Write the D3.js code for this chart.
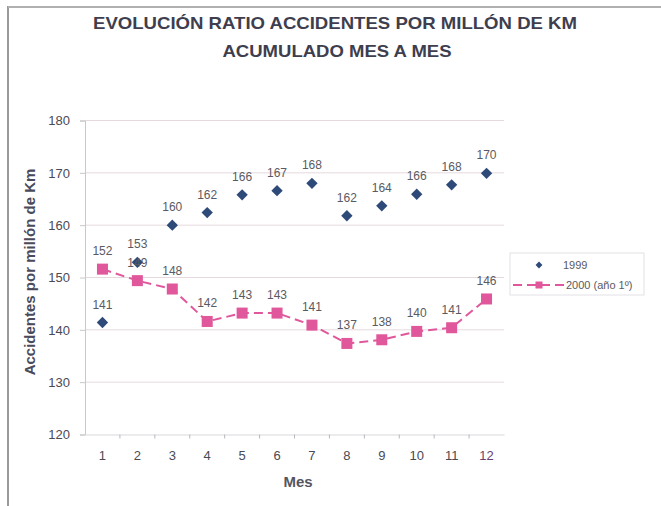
<!DOCTYPE html>
<html>
<head>
<meta charset="utf-8">
<script src="https://cdn.jsdelivr.net/npm/d3@7/dist/d3.min.js"></script>
<style>
body { margin: 0; background: #fff; }
svg { display: block; font-family: Arial, 'Liberation Sans', sans-serif; }
</style>
</head>
<body>
<svg id="chart" width="661" height="506"></svg>
<script>
// chart data
var months = ['1', '2', '3', '4', '5', '6', '7', '8', '9', '10', '11', '12'];
var serie1999 = [141.4, 152.9, 160.0, 162.4, 165.8, 166.6, 168.0, 161.8, 163.7, 165.9, 167.7, 169.9];
var serie2000 = [151.6, 149.4, 147.8, 141.6, 143.2, 143.2, 140.9, 137.4, 138.1, 139.7, 140.4, 145.9];
var labels1999 = ['141', '153', '160', '162', '166', '167', '168', '162', '164', '166', '168', '170'];
var labels2000 = ['152', '149', '148', '142', '143', '143', '141', '137', '138', '140', '141', '146'];
var yTicks = [120, 130, 140, 150, 160, 170, 180];
var seriesNames = ['1999', '2000 (año 1º)'];

var svg = d3.select('#chart');
var margin = {top: 120.5, left: 85, right: 157, bottom: 71.5};
var width = 661 - margin.left - margin.right,
    height = 506 - margin.top - margin.bottom;

var blue = '#2e4a78', pink = '#e0579c', txt = '#4a4a55';

// frame of the scanned sheet
svg.append('line').attr('x1', 8).attr('x2', 8).attr('y1', 6).attr('y2', 506)
  .attr('stroke', '#9a9a9a').attr('stroke-width', 2);
svg.append('line').attr('x1', 8).attr('x2', 661).attr('y1', 7).attr('y2', 7)
  .attr('stroke', '#b0b0b0').attr('stroke-width', 2);

// title
svg.append('text').attr('x', 335).attr('y', 29).attr('text-anchor', 'middle')
  .attr('font-size', 17).attr('font-weight', 'bold').attr('fill', '#3e3e4e')
  .attr('textLength', 484).attr('lengthAdjust', 'spacingAndGlyphs')
  .text('EVOLUCIÓN RATIO ACCIDENTES POR MILLÓN DE KM');
svg.append('text').attr('x', 337).attr('y', 57).attr('text-anchor', 'middle')
  .attr('font-size', 17).attr('font-weight', 'bold').attr('fill', '#3e3e4e')
  .attr('textLength', 229).attr('lengthAdjust', 'spacingAndGlyphs')
  .text('ACUMULADO MES A MES');

var g = svg.append('g').attr('transform', 'translate(' + margin.left + ',' + margin.top + ')');

var x = d3.scaleBand().domain(months).range([0, width]);
var y = d3.scaleLinear().domain([120, 180]).range([height, 0]);
var cx = function(i) { return x(months[i]) + x.bandwidth() / 2; };

// gridlines
g.selectAll('.grid').data(yTicks.slice(1)).enter().append('line')
  .attr('class', 'grid')
  .attr('x1', 0).attr('x2', width)
  .attr('y1', function(d) { return y(d); }).attr('y2', function(d) { return y(d); })
  .attr('stroke', '#e6d9de').attr('stroke-width', 1);

// y axis
var yAxis = g.append('g').call(d3.axisLeft(y).tickValues(yTicks).tickSize(5).tickPadding(10));
yAxis.select('.domain').attr('stroke', '#c8c8cc');
yAxis.selectAll('.tick line').attr('stroke', '#c8c8cc');
yAxis.selectAll('.tick text').attr('font-size', 13).attr('fill', txt)
  .attr('font-family', 'Arial, Liberation Sans, sans-serif');

// x axis
var xAxis = g.append('g').attr('transform', 'translate(0,' + height + ')')
  .call(d3.axisBottom(x).tickSize(0).tickPadding(16));
xAxis.select('.domain').attr('stroke', '#d8d8dc');
xAxis.selectAll('.tick text').attr('font-size', 13)
  .attr('fill', function(d) { return d === '12' ? '#6a3f6e' : txt; })
  .attr('font-family', 'Arial, Liberation Sans, sans-serif');
g.selectAll('.xsep').data(months.slice(1)).enter().append('line')
  .attr('x1', function(d) { return x(d); }).attr('x2', function(d) { return x(d); })
  .attr('y1', height).attr('y2', height + 4)
  .attr('stroke', '#b8b8bc');

// axis titles
svg.append('text').attr('transform', 'translate(35,272) rotate(-90)')
  .attr('text-anchor', 'middle').attr('font-size', 15).attr('font-weight', 'bold')
  .attr('fill', '#4a4a5a').text('Accidentes por millón de Km');
svg.append('text').attr('x', 298).attr('y', 487).attr('text-anchor', 'middle')
  .attr('font-size', 15).attr('font-weight', 'bold').attr('fill', '#55555f').text('Mes');

// 2000 line
g.append('path').datum(serie2000)
  .attr('fill', 'none').attr('stroke', pink).attr('stroke-width', 2)
  .attr('stroke-dasharray', '9,5')
  .attr('d', d3.line().x(function(d, i) { return cx(i); }).y(function(d) { return y(d); }));

// 2000 markers
g.selectAll('.sq').data(serie2000).enter().append('rect')
  .attr('x', function(d, i) { return cx(i) - 5.5; })
  .attr('y', function(d) { return y(d) - 5.5; })
  .attr('width', 11).attr('height', 11).attr('fill', pink);

// 1999 markers
var diamond = d3.symbol().type(d3.symbolDiamond2).size(82);
g.selectAll('.dm').data(serie1999).enter().append('path')
  .attr('transform', function(d, i) { return 'translate(' + cx(i) + ',' + y(d) + ')'; })
  .attr('d', diamond).attr('fill', blue);

// labels
g.selectAll('.l99').data(serie1999).enter().append('text')
  .attr('x', function(d, i) { return cx(i); })
  .attr('y', function(d) { return y(d) - 14; })
  .attr('text-anchor', 'middle').attr('font-size', 12).attr('fill', '#5a5a62')
  .text(function(d, i) { return labels1999[i]; });
g.selectAll('.l00').data(serie2000).enter().append('text')
  .attr('x', function(d, i) { return cx(i); })
  .attr('y', function(d) { return y(d) - 14; })
  .attr('text-anchor', 'middle').attr('font-size', 12).attr('fill', '#5a5a62')
  .text(function(d, i) { return labels2000[i]; });

// legend
var lg = svg.append('g').attr('transform', 'translate(510,253)');
lg.append('rect').attr('width', 134).attr('height', 42)
  .attr('fill', '#fff').attr('stroke', '#e2e2e6');
lg.append('path').attr('transform', 'translate(29,12)')
  .attr('d', d3.symbol().type(d3.symbolDiamond2).size(30)).attr('fill', blue);
lg.append('line').attr('x1', 3).attr('x2', 55).attr('y1', 32).attr('y2', 32)
  .attr('stroke', pink).attr('stroke-width', 2).attr('stroke-dasharray', '9,5');
lg.append('rect').attr('x', 25.5).attr('y', 28.5).attr('width', 7).attr('height', 7).attr('fill', pink);
lg.selectAll('.lt').data(seriesNames).enter().append('text')
  .attr('x', function(d, i) { return i === 0 ? 53 : 56; })
  .attr('y', function(d, i) { return 16 + i * 20; })
  .attr('font-size', 11).attr('fill', '#5a5a62')
  .text(function(d) { return d; });
</script>
</body>
</html>
